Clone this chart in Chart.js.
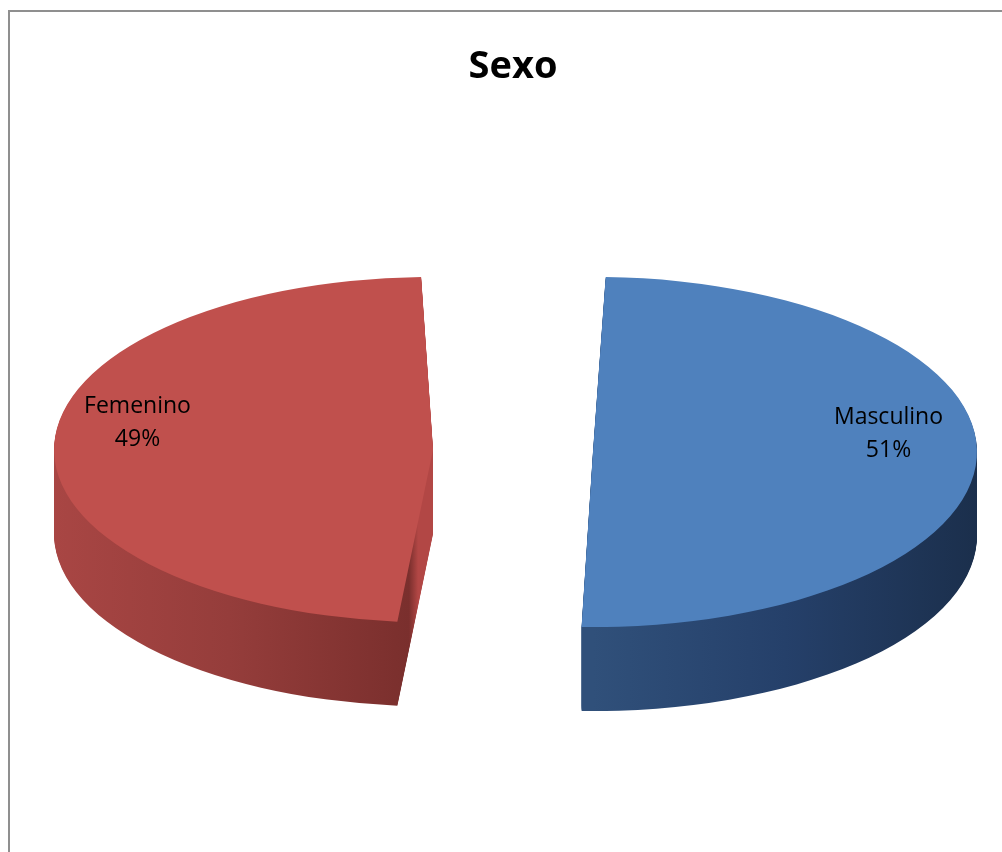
<!DOCTYPE html>
<html>
<head>
<meta charset="utf-8">
<title>Sexo</title>
<script src="https://cdn.jsdelivr.net/npm/chart.js@4.4.1/dist/chart.umd.min.js"></script>
<style>
html,body{margin:0;padding:0;background:#fff;overflow:hidden}
#Frame{position:absolute;left:8px;top:10px;width:1100px;height:1000px;border:2px solid #8f8f8f}
#PieDiv{position:absolute;left:0;top:0;width:1002px;height:852px}
</style>
</head>
<body>
<div id="Frame"></div>
<div id="PieDiv"><canvas id="PieHTML" width="1002" height="852"></canvas></div>
<script>
// data
const LABELS=['Masculino','Femenino'];
const VALUES=[51,49];

const TOPCOLOURS=['#4F81BD','#C0504D'];
const SIDESTOPS=[
 ['#30507a','#25406a','#1b2f4c'],
 ['#a94644','#953d3b','#7a2f2d']
];
const CUTFACE='#b24745';  // lit flat face of the left slice

const SQUASH=0.456;   // vertical flattening of the pie
const DEPTH=84;       // thickness of the pie, px
const EXPLODE=320;    // chart.js offset (arcs move out by a quarter of it)

let Pie

function Squash(ctx,cy){ctx.translate(0,cy);ctx.scale(1,SQUASH);ctx.translate(0,-cy)}

// rough centre/radius of an offset slice, for labels
function Geo(arc){
const q=(arc.options.offset||0)/4;
const mid=(arc.startAngle+arc.endAngle)/2;
return {mid:mid,cx:arc.x+Math.cos(mid)*q,cy:arc.y+Math.sin(mid)*q,r:arc.outerRadius+q};
}

// a copy of the arc that draws itself with another fill
function Ghost(arc,fill){
const g=Object.create(arc);
g.options=new Proxy(arc.options,{get:(t,k)=>k==='backgroundColor'?fill:(k==='borderWidth'?0:t[k])});
return g;
}

// ArcElement.draw translates by the offset itself, so the gradient
// is laid out around the un-shifted centre arc.x
function SideGradient(ctx,arc,i){
const r=Geo(arc).r;
const x0=arc.x-r,w=2*r;
const grad=ctx.createLinearGradient(x0,0,x0+w,0);
const st=SIDESTOPS[i];
if(i===0){grad.addColorStop(0.5,st[0]);grad.addColorStop(0.75,st[1]);grad.addColorStop(1,st[2]);}
else{
 // wall ends where the arc meets the flat face
 const f=Math.min(Math.max((arc.x+r*Math.cos(arc.startAngle)-x0)/w,0.1),0.9);
 grad.addColorStop(0,st[0]);grad.addColorStop(f*0.5,st[1]);grad.addColorStop(f,st[2]);
 grad.addColorStop(Math.min(f+0.012,1),CUTFACE);grad.addColorStop(1,CUTFACE);
}
return grad;
}

// the pie's walls: each slice drawn again, pushed down step by step
const sidesPlugin={
 id:'sides',
 beforeDatasetsDraw(chart){
  const ctx=chart.ctx;
  const arcs=chart.getDatasetMeta(0).data;
  arcs.forEach((arc,i)=>{
   const ghost=Ghost(arc,SideGradient(ctx,arc,i));
   for(let d=DEPTH;d>0;d--){
    ctx.save();
    ctx.translate(0,d);
    Squash(ctx,arc.y);
    ghost.draw(ctx);
    ctx.restore();
   }
  });
  ctx.save();
  Squash(ctx,arcs[0].y);
 },
 afterDatasetsDraw(chart){
  const ctx=chart.ctx;
  ctx.restore();
  const arcs=chart.getDatasetMeta(0).data;
  const total=VALUES.reduce((a,b)=>a+b,0);
  ctx.save();
  ctx.fillStyle='#000';
  ctx.font='23px "Open Sans", "Noto Sans", sans-serif';
  ctx.textAlign='center';
  ctx.textBaseline='middle';
  arcs.forEach((arc,i)=>{
   const g=Geo(arc);
   const x=g.cx+Math.cos(g.mid)*g.r*0.77;
   const y=arc.y+(g.cy-arc.y+Math.sin(g.mid)*g.r*0.77)*SQUASH-23;
   ctx.fillText(LABELS[i],x,y-16);
   ctx.fillText(Math.round(VALUES[i]/total*100)+'%',x,y+17);
  });
  ctx.restore();
 }
};

function LoadPie(){
Pie=new Chart(document.getElementById('PieHTML'),{
 type:'pie',
 data:{
  labels:LABELS,
  datasets:[{
   data:VALUES,
   backgroundColor:TOPCOLOURS,
   borderWidth:0,
   offset:EXPLODE,
   clip:false
  }]
 },
 options:{
  responsive:false,
  animation:false,
  radius:384-EXPLODE/4,
  rotation:0,
  layout:{padding:{left:24,right:0,top:0,bottom:48}},
  plugins:{
   legend:{display:false},
   tooltip:{enabled:false},
   title:{display:true,text:'Sexo',color:'#000',
    font:{size:38,weight:'bold',family:'"Open Sans", "Noto Sans", sans-serif'},
    padding:{top:44,bottom:8}}
  },
  events:[]
 },
 plugins:[sidesPlugin]
});
}

LoadPie();
</script>
</body>
</html>
